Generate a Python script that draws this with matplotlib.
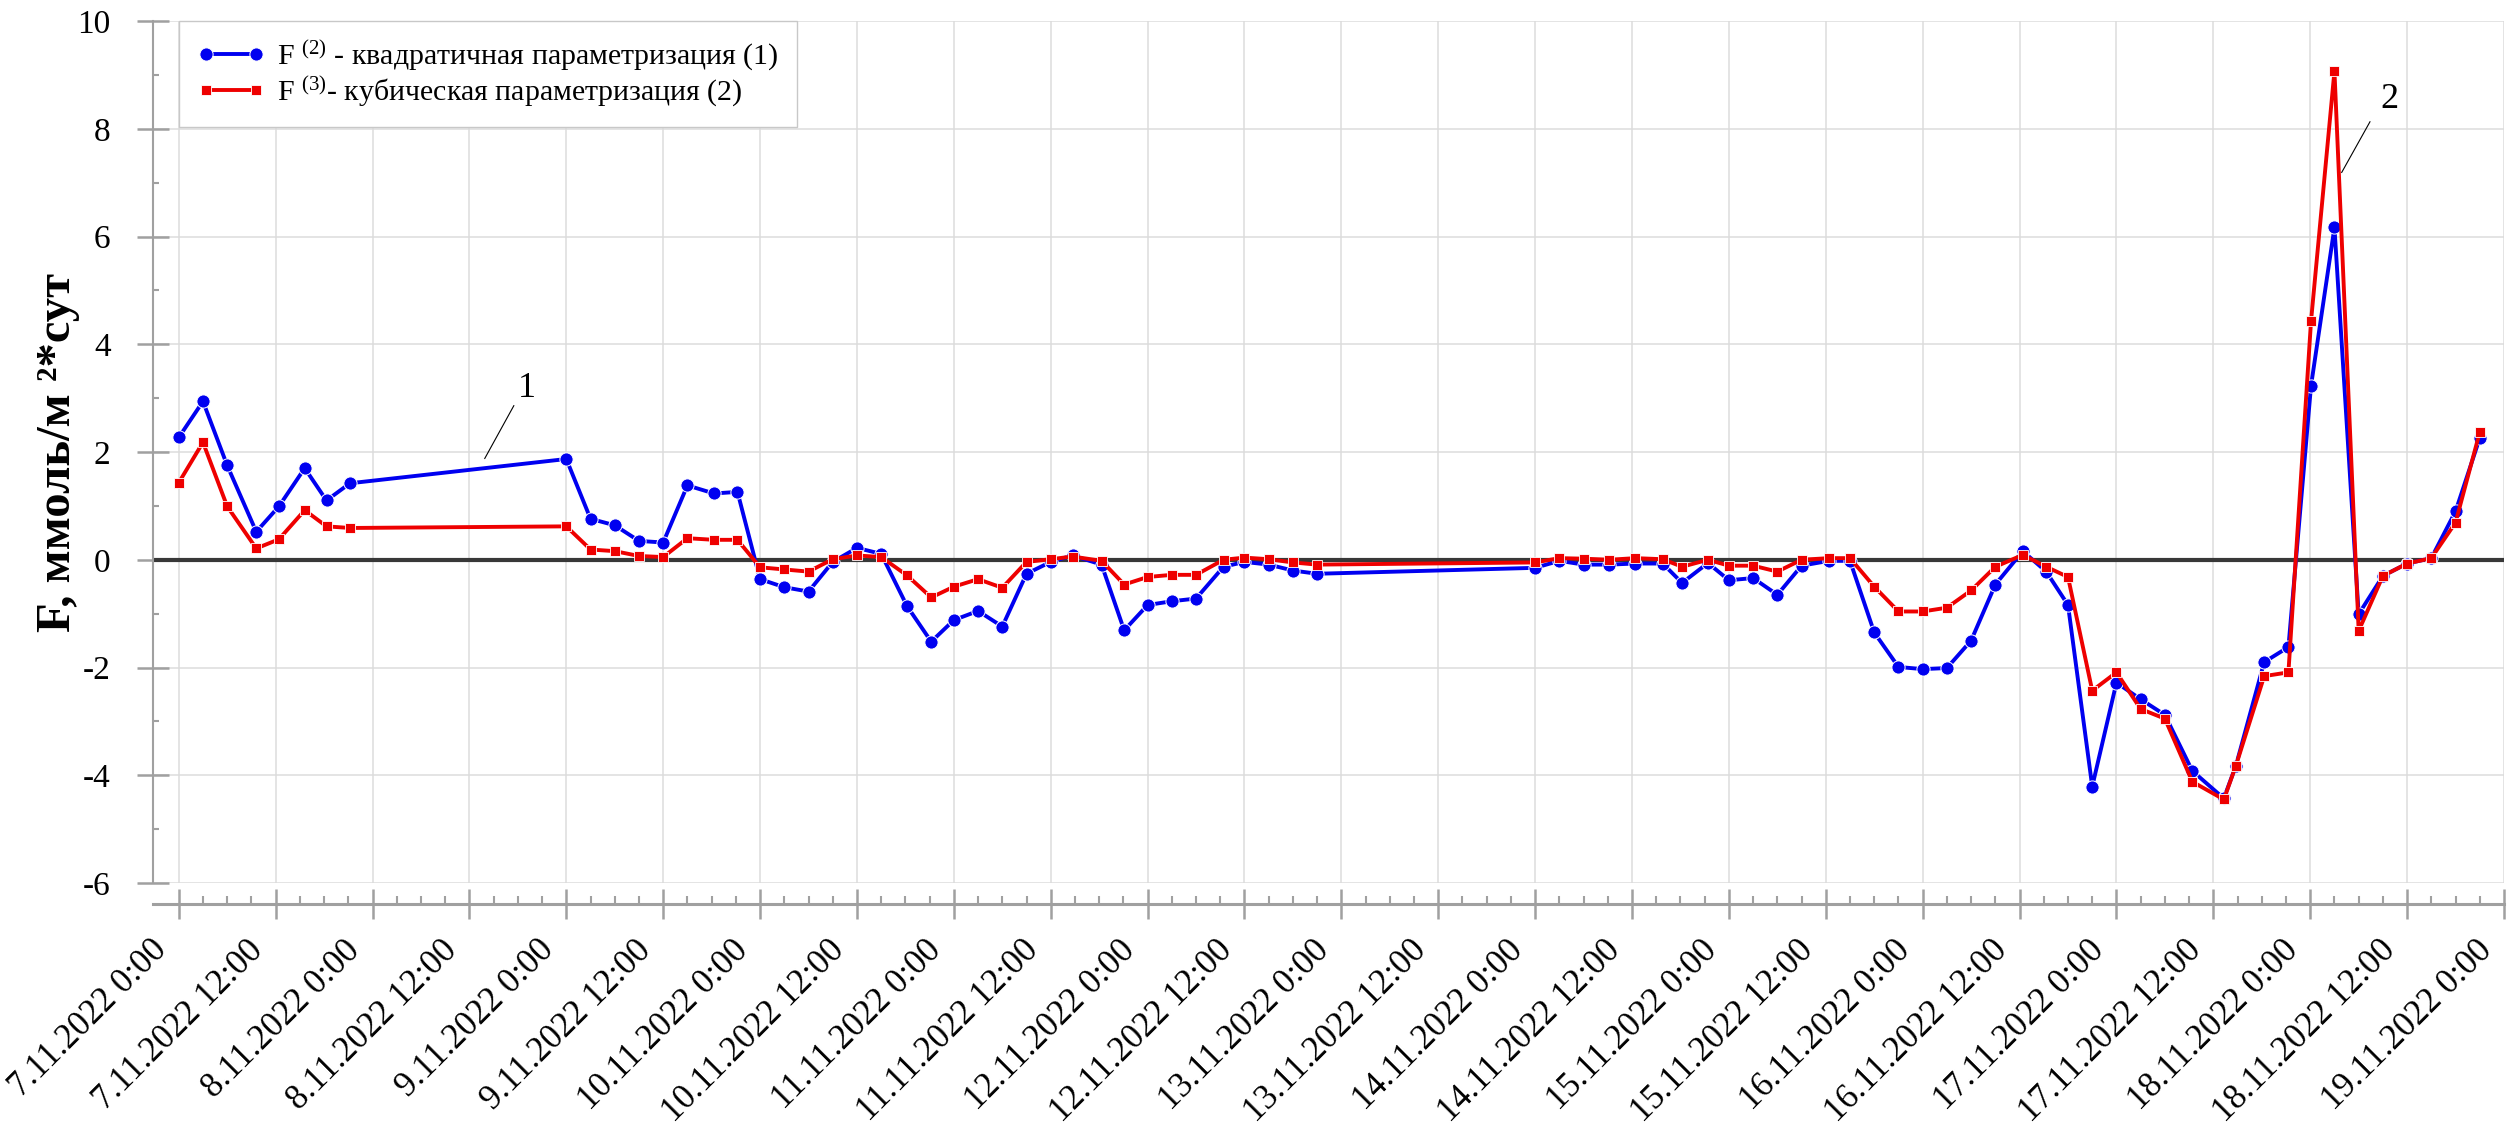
#
# Description: потоки F(2) и F(3), 7-19.11.2022
#

import matplotlib
matplotlib.use('Agg')
import matplotlib.pyplot as plt
import matplotlib.dates as mdates
import matplotlib.transforms as mtransforms
import pandas as pd
from matplotlib.ticker import FixedLocator, FuncFormatter, MultipleLocator

# начало ряда и часы от начала
start = pd.Timestamp('2022-11-07 00:00')
hours = [0, 3, 6, 9.6, 12.4, 15.6, 18.3, 21.2,
         48, 51, 54, 57, 60, 63, 66.3, 69.2, 72, 75, 78, 81, 84, 87,
         90.2, 93.2, 96, 99, 102, 105, 108, 110.7, 114.3, 117.1, 120, 123, 126,
         129.4, 132, 135, 138, 141,
         168, 171, 174, 177.2, 180.4, 183.8, 186.2, 189.4, 192, 195, 198, 201,
         204.4, 207, 210, 213, 216, 219, 222, 225, 228.4, 231.3, 234, 237,
         240, 243, 246, 249.4, 253.3, 254.8, 258.3, 261.3, 264.1, 267, 270,
         273, 276, 279, 282, 285]

# F(2) - квадратичная параметризация
f2_quad = [2.27, 2.94, 1.75, 0.52, 0.99, 1.70, 1.10, 1.42,
           1.87, 0.76, 0.64, 0.35, 0.32, 1.38, 1.23, 1.26, -0.36, -0.51, -0.59, -0.04, 0.22, 0.11,
           -0.86, -1.52, -1.12, -0.95, -1.24, -0.26, -0.04, 0.08, -0.09, -1.31, -0.84, -0.77, -0.72,
           -0.13, -0.04, -0.09, -0.20, -0.26,
           -0.15, -0.02, -0.09, -0.09, -0.07, -0.07, -0.43, -0.06, -0.38, -0.34, -0.65, -0.11,
           -0.02, -0.02, -1.35, -1.99, -2.03, -2.01, -1.50, -0.46, 0.16, -0.22, -0.84, -4.21,
           -2.28, -2.59, -2.88, -3.92, -4.43, -3.82, -1.90, -1.62, 3.23, 6.17, -1.01,
           -0.30, -0.07, 0.03, 0.90, 2.26]

# F(3) - кубическая параметризация
f3_cubic = [1.43, 2.18, 0.99, 0.21, 0.38, 0.92, 0.62, 0.59,
            0.62, 0.19, 0.16, 0.07, 0.05, 0.40, 0.37, 0.37, -0.14, -0.18, -0.22, 0.01, 0.08, 0.05,
            -0.29, -0.70, -0.50, -0.36, -0.52, -0.04, 0.01, 0.06, -0.02, -0.46, -0.32, -0.28, -0.28,
            0.0, 0.04, 0.01, -0.05, -0.09,
            -0.05, 0.03, 0.02, 0.0, 0.03, 0.01, -0.13, 0.0, -0.11, -0.11, -0.22, 0.0,
            0.03, 0.03, -0.50, -0.96, -0.96, -0.89, -0.57, -0.13, 0.09, -0.13, -0.32, -2.43,
            -2.09, -2.77, -2.95, -4.12, -4.45, -3.82, -2.16, -2.09, 4.43, 9.07, -1.32,
            -0.30, -0.07, 0.03, 0.69, 2.37]

labels = [r'F $^{(2)}$ - квадратичная параметризация (1)',
          r'F $^{(3)}$- кубическая параметризация (2)']
y_title = 'F, ммоль/м ²*сут'


def fmt_date(v, pos=None):
    d = mdates.num2date(v)
    return f'{d.day}.{d.month}.{d.year} {d.hour}:{d.minute:02d}'


def main():
    plt.rcParams['font.family'] = ['Liberation Serif', 'DejaVu Serif']
    plt.rcParams['mathtext.fontset'] = 'custom'
    plt.rcParams['mathtext.rm'] = 'Liberation Serif'
    plt.rcParams['mathtext.it'] = 'Liberation Serif:italic'
    plt.rcParams['mathtext.bf'] = 'Liberation Serif:bold'
    plt.rcParams['axes.unicode_minus'] = False

    times = (start + pd.to_timedelta(hours, unit='h')).to_pydatetime()

    fig = plt.figure(figsize=(25.07, 11.37), dpi=100)
    ax = fig.add_axes([0.061, 0.2234, 0.9378, 0.7581])

    ax.axhline(0, color='#383838', lw=3.0, zorder=2)
    ax.plot(times, f2_quad, color='#0000f0', lw=2.8, marker='o', ms=9.5,
            mec='white', mew=0.7, label=labels[0], zorder=3)
    ax.plot(times, f3_cubic, color='#ee0000', lw=2.8, marker='s', ms=7,
            mec='white', mew=0.6, label=labels[1], zorder=4)

    # оси
    x0 = mdates.date2num(start - pd.Timedelta(hours=3.2))
    x1 = mdates.date2num(start + pd.Timedelta(hours=288))
    ax.set_xlim(x0, x1)
    ax.set_ylim(-6, 10)

    major = pd.date_range(start, start + pd.Timedelta(hours=288), freq='12h')
    minor = [t for t in pd.date_range(start, start + pd.Timedelta(hours=288), freq='3h')
             if t.hour % 12 != 0]
    ax.xaxis.set_major_locator(FixedLocator(mdates.date2num(major.to_pydatetime())))
    ax.xaxis.set_minor_locator(FixedLocator(mdates.date2num([t.to_pydatetime() for t in minor])))
    ax.xaxis.set_major_formatter(FuncFormatter(fmt_date))
    ax.yaxis.set_major_locator(MultipleLocator(2))
    ax.yaxis.set_minor_locator(MultipleLocator(1))

    for s in ['top', 'right']:
        ax.spines[s].set_visible(False)
    ax.spines['left'].set_color('#a0a0a0')
    ax.spines['left'].set_linewidth(1.5)
    ax.spines['bottom'].set_color('#a0a0a0')
    ax.spines['bottom'].set_linewidth(2.2)
    ax.spines['bottom'].set_position(('outward', 15))

    ax.tick_params(axis='y', which='major', direction='inout', length=23, width=1.8,
                   color='#a0a0a0', labelsize=24, pad=19)
    ax.tick_params(axis='y', which='minor', direction='in', length=4.5, width=1.5,
                   color='#a0a0a0')
    ax.tick_params(axis='x', which='major', direction='inout', length=22, width=1.8,
                   color='#a0a0a0', labelsize=25, pad=19)
    ax.tick_params(axis='x', which='minor', direction='in', length=6, width=1.5,
                   color='#a0a0a0')
    # подписи дат под 45 градусов, конец подписи левее деления
    shift = mtransforms.ScaledTranslation(-0.17, 0.0, fig.dpi_scale_trans)
    for lbl in ax.get_xticklabels():
        lbl.set_rotation(45)
        lbl.set_ha('right')
        lbl.set_va('center')
        lbl.set_rotation_mode('anchor')
        lbl.set_transform(lbl.get_transform() + shift)

    ax.grid(True, which='major', color='#dcdcdc', lw=1.1, zorder=0)
    ax.set_axisbelow(True)

    ax.set_ylabel(y_title, fontsize=35, fontweight='bold')
    ax.yaxis.set_label_coords(-0.031, 0.5)

    # подписи кривых
    def at(h):
        return mdates.date2num(start + pd.Timedelta(hours=h))
    ax.plot([at(41.5), at(37.9)], [2.86, 1.88], color='black', lw=0.8, zorder=5)
    ax.text(at(43.1), 3.17, '1', fontsize=26, ha='center', va='center')
    ax.plot([at(271.4), at(267.9)], [8.13, 7.19], color='black', lw=0.8, zorder=5)
    ax.text(at(273.8), 8.55, '2', fontsize=26, ha='center', va='center')

    leg = ax.legend(loc='upper left', bbox_to_anchor=(0.011, 1.0), borderaxespad=0,
                    fontsize=21.5, numpoints=2, fancybox=False, framealpha=1,
                    edgecolor='#c8c8c8', handlelength=2.3, handletextpad=0.4,
                    labelspacing=0.05, borderpad=0.6)
    leg.get_frame().set_linewidth(1.0)

    fig.savefig('out.png', dpi=100)


if __name__ == "__main__":
    main()
